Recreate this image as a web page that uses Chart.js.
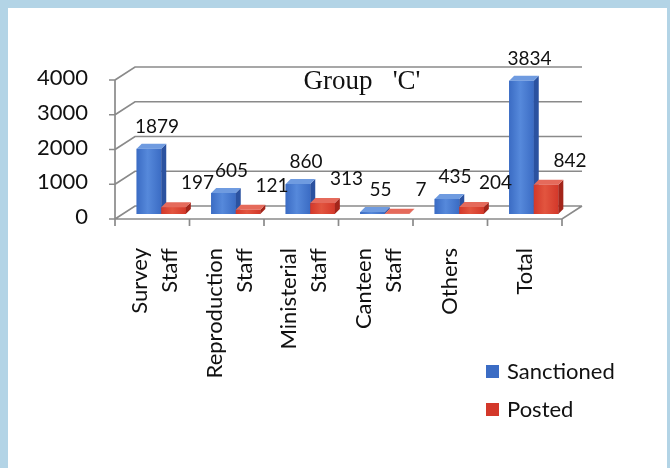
<!DOCTYPE html>
<html>
<head>
<meta charset="utf-8">
<title>Group 'C'</title>
<script src="https://cdn.jsdelivr.net/npm/chart.js@4.4.0/dist/chart.umd.min.js"></script>
<style>
  html, body { margin: 0; padding: 0; background: #fff; }
  #frame {
    position: absolute; left: 0; top: 0; width: 670px; height: 468px;
    box-sizing: border-box;
    border-top: 8px solid #b3d4e6; border-left: 8px solid #b3d4e6; border-right: 3px solid #b3d4e6;
  }
  #wrap { position: absolute; left: 0; top: 0; width: 670px; height: 468px; }
</style>
</head>
<body>
<div id="frame"></div>
<div id="wrap"><canvas id="chart"></canvas></div>
<script>
// --- data ---
const categories = [['Survey', 'Staff'], ['Reproduction', 'Staff'], ['Ministerial', 'Staff'], ['Canteen', 'Staff'], ['Others'], ['Total']];
const seriesNames = ['Sanctioned', 'Posted'];
const sanctioned = [1879, 605, 860, 55, 435, 3834];
const posted = [197, 121, 313, 7, 204, 842];
const yTicks = [0, 1000, 2000, 3000, 4000];
const chartTitle = "Group   'C'";

// --- look ---
const SANS = "Lato, 'Open Sans', sans-serif";
const SERIF = "'Liberation Serif', 'DejaVu Serif', serif";
const faces = [
  { front: '#3b6cc4', light: '#5689db', side: '#2b52a0', top: '#6f9be0' },
  { front: '#d3382a', light: '#e2553f', side: '#a3251a', top: '#e56a5b' }
];
const GRID = '#8a8a8a';
const FRONT = { dx: -9, dy: 5 };   // front plane relative to the bars
const WALL = { dx: 20, dy: -13 };  // depth of the floor / back wall
const BAR = { dx: 5, dy: -5 };     // depth of each bar

// walls, floor, axis lines, category labels and the title, drawn under the bars
const wallsPlugin = {
  id: 'walls',
  beforeDatasetsDraw(chart) {
    const { ctx, chartArea: a, scales: { x, y } } = chart;
    const fl = a.left + FRONT.dx, fr = a.right + FRONT.dx, fb = a.bottom + FRONT.dy;
    ctx.save();
    ctx.strokeStyle = GRID;
    ctx.lineWidth = 1.7;
    ctx.beginPath();
    yTicks.forEach(v => {
      const yy = y.getPixelForValue(v) + FRONT.dy;
      ctx.moveTo(fl, yy);
      ctx.lineTo(fl + WALL.dx, yy + WALL.dy);
      ctx.lineTo(fr + WALL.dx, yy + WALL.dy);
      ctx.moveTo(fl - 6, yy);
      ctx.lineTo(fl, yy);
    });
    // floor front edge + right edge
    ctx.moveTo(fl, fb);
    ctx.lineTo(fr, fb);
    ctx.lineTo(fr + WALL.dx, fb + WALL.dy);
    // y axis
    ctx.moveTo(fl, y.getPixelForValue(yTicks[yTicks.length - 1]) + FRONT.dy);
    ctx.lineTo(fl, fb + 6);
    // category tick marks
    const slot = (a.right - a.left) / categories.length;
    for (let i = 0; i <= categories.length; i++) {
      const tx = fl + i * slot;
      ctx.moveTo(tx, fb);
      ctx.lineTo(tx, fb + 7);
    }
    ctx.stroke();

    // rotated category labels, lines centred on the front slot
    ctx.fillStyle = '#111';
    ctx.font = '22px ' + SANS;
    ctx.textAlign = 'right';
    ctx.textBaseline = 'middle';
    const pitch = 30;
    categories.forEach((lines, i) => {
      const cx = x.getPixelForValue(i) + FRONT.dx + (lines.length > 1 ? 3 : 0);
      lines.forEach((txt, j) => {
        const lx = cx + (j - (lines.length - 1) / 2) * pitch;
        ctx.save();
        ctx.translate(lx, a.bottom + 34);
        ctx.rotate(-Math.PI / 2);
        ctx.fillText(txt, 0, 0);
        ctx.restore();
      });
    });

    ctx.font = '27px ' + SERIF;
    ctx.textAlign = 'center';
    ctx.fillText(chartTitle, a.left + 238, a.top + 7);
    ctx.restore();
  }
};

// 3D faces of each bar and the value labels
const barsPlugin = {
  id: 'bars3d',
  afterDatasetsDraw(chart) {
    const { ctx } = chart;
    ctx.save();
    for (let i = 0; i < categories.length; i++) {
      for (let d = 0; d < chart.data.datasets.length; d++) {
        const bar = chart.getDatasetMeta(d).data[i];
        const { x, y, base, width } = bar.getProps(['x', 'y', 'base', 'width'], true);
        const l = x - width / 2, r = x + width / 2;
        const c = faces[d];
        const g = ctx.createLinearGradient(l, 0, r, 0);
        g.addColorStop(0, c.front);
        g.addColorStop(0.45, c.light);
        g.addColorStop(1, c.front);
        ctx.fillStyle = g;
        ctx.fillRect(l, y, width, base - y);
        // side
        ctx.fillStyle = c.side;
        ctx.beginPath();
        ctx.moveTo(r, y);
        ctx.lineTo(r + BAR.dx, y + BAR.dy);
        ctx.lineTo(r + BAR.dx, base + BAR.dy);
        ctx.lineTo(r, base);
        ctx.closePath();
        ctx.fill();
        // top
        ctx.fillStyle = c.top;
        ctx.beginPath();
        ctx.moveTo(l, y);
        ctx.lineTo(l + BAR.dx, y + BAR.dy);
        ctx.lineTo(r + BAR.dx, y + BAR.dy);
        ctx.lineTo(r, y);
        ctx.closePath();
        ctx.fill();
      }
    }
    // value labels
    ctx.fillStyle = '#111';
    ctx.font = '19px ' + SANS;
    ctx.textAlign = 'center';
    ctx.textBaseline = 'middle';
    const offs = [{ x: 8, y: -22 }, { x: 24, y: -24 }];
    chart.data.datasets.forEach((ds, d) => {
      chart.getDatasetMeta(d).data.forEach((bar, i) => {
        ctx.fillText(String(ds.data[i]), bar.x + offs[d].x, bar.y + offs[d].y);
      });
    });
    ctx.restore();
  },
  afterDraw(chart) {
    const { ctx, chartArea: a } = chart;
    ctx.save();
    ctx.font = '22px ' + SANS;
    ctx.textBaseline = 'middle';
    ctx.textAlign = 'left';
    chart.data.datasets.forEach((ds, d) => {
      const lx = a.right - 85, ly = a.bottom + 158 + d * 38;
      ctx.fillStyle = faces[d].front;
      ctx.fillRect(lx, ly - 7, 13, 13);
      ctx.fillStyle = '#111';
      ctx.fillText(ds.label, lx + 21, ly);
    });
    ctx.restore();
  }
};

new Chart(document.getElementById('chart'), {
  type: 'bar',
  data: {
    labels: categories,
    datasets: [
      { label: seriesNames[0], data: sanctioned, backgroundColor: faces[0].front },
      { label: seriesNames[1], data: posted, backgroundColor: faces[1].front }
    ]
  },
  options: {
    responsive: true,
    maintainAspectRatio: false,
    animation: false,
    layout: { padding: { top: 75, right: 99, bottom: 0, left: 0 } },
    datasets: { bar: { categoryPercentage: 0.66, barPercentage: 1.0 } },
    plugins: {
      legend: { display: false },
      tooltip: { enabled: false },
      title: { display: false }
    },
    scales: {
      x: {
        grid: { display: false, drawTicks: false },
        border: { display: false },
        afterFit: s => { s.height = 254; },
        ticks: { display: false }
      },
      y: {
        min: 0, max: 4000,
        grid: { display: false, drawTicks: false },
        border: { display: false },
        afterFit: s => { s.width = 124; },
        afterBuildTicks: s => { s.ticks = yTicks.map(v => ({ value: v })); },
        ticks: {
          padding: 36, labelOffset: 3,
          color: '#111',
          font: { family: SANS, size: 22 },
          callback: v => String(v)
        }
      }
    }
  },
  plugins: [wallsPlugin, barsPlugin]
});
</script>
</body>
</html>
